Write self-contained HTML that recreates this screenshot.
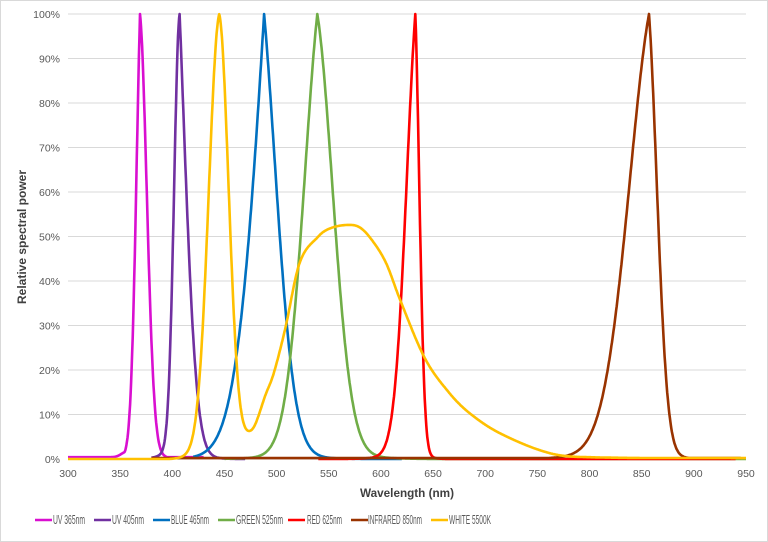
<!DOCTYPE html>
<html><head><meta charset="utf-8"><style>
html,body{margin:0;padding:0;background:#fff;}
svg{display:block;font-family:"Liberation Sans",sans-serif;}
</style></head><body>
<svg id="s" width="768" height="542" viewBox="0 0 768 542" xmlns="http://www.w3.org/2000/svg">
<rect x="0.5" y="0.5" width="767" height="541" fill="#fff" stroke="#d9d9d9"/>
<g id="grid" stroke="#d9d9d9" stroke-width="1"></g>
<g id="ylab" fill="#595959" font-size="10.5" text-anchor="end"></g>
<g id="xlab" fill="#595959" font-size="10.5" text-anchor="middle"></g>
<text x="407" y="497" font-size="12" font-weight="bold" fill="#404040" text-anchor="middle" textLength="94" lengthAdjust="spacingAndGlyphs">Wavelength (nm)</text>
<text transform="translate(26,237) rotate(-90)" font-size="12" font-weight="bold" fill="#404040" text-anchor="middle" textLength="134" lengthAdjust="spacingAndGlyphs">Relative spectral power</text>
<g id="curves" fill="none" stroke-width="2.6" stroke-linejoin="round"></g>
<g id="leg" fill="#595959"></g>
</svg>
<script>
var NS="http://www.w3.org/2000/svg";
function el(p,t,a,txt){var e=document.createElementNS(NS,t);for(var k in a)e.setAttribute(k,a[k]);if(txt)e.textContent=txt;document.getElementById(p).appendChild(e);return e;}
var x0=68,x1=746,y0=459,y100=14;
function X(nm){return x0+(nm-300)*(x1-x0)/650;}
function Y(v){return y0-(y0-y100)*v;}
for(var i=0;i<=10;i++){var y=Y(i/10);el('grid','line',{x1:x0,x2:x1,y1:y,y2:y,stroke:i==0?'#bfbfbf':'#d9d9d9'});el('ylab','text',{x:60,y:y+4},(i*10)+'%');}
for(var n=300;n<=950;n+=50)el('xlab','text',{x:X(n),y:477},''+n);
var L6=Math.log(1/0.6),L3=Math.log(1/0.3);
function coef(h1,h2){var b=(L3-L6*h2/h1)/(h2*h2-h1*h2);if(b<0)b=0;var a=(L6-b*h1*h1)/h1;if(a<0)a=0;return [a,b];}
function peak(c,h1l,h2l,h1r,h2r,w){w=w||0.1;var cl=coef(h1l,h2l),cr=coef(h1r,h2r);return function(n){var d=Math.abs(n-c);var k=n<c?cl:cr;var h2=n<c?h2l:h2r;var core=Math.exp(-(k[0]*d+k[1]*d*d));var tail=Math.exp(-d/(h2*0.75));return (core+w*tail)/(1+w);};}
function interp(tab,nm){
 if(nm<=tab[0][0])return tab[0][1];
 for(var i=1;i<tab.length;i++){if(nm<=tab[i][0]){
  var p0=tab[Math.max(i-2,0)],p1=tab[i-1],p2=tab[i],p3=tab[Math.min(i+1,tab.length-1)];
  var t=(nm-p1[0])/(p2[0]-p1[0]);
  var h=p2[0]-p1[0];
  var m1=(p2[1]-p0[1])/(p2[0]-p0[0]||1)*h, m2=(p3[1]-p1[1])/(p3[0]-p1[0]||1)*h;
  var t2=t*t,t3=t2*t;
  return (2*t3-3*t2+1)*p1[1]+(t3-2*t2+t)*m1+(-2*t3+3*t2)*p2[1]+(t3-t2)*m2;}}
 return tab[tab.length-1][1];}
var broad=[[300,0],[450,0],[462,0.015],[471,0.04],[479,0.07],[489,0.14],[497,0.19],[508,0.29],[522,0.44],[540,0.50],[551,0.518],[568,0.526],[580,0.52],[592,0.49],[605,0.44],[618,0.36],[642,0.227],[665,0.15],[685,0.103],[714,0.058],[762,0.013],[800,0.004],[950,0.002]];
var pM=peak(369,3.8,6.7,6.7,10.5), pP=peak(407,7.7,10.5,6.7,12.5), pY=peak(445,11.5,17,10,15),
    pB=peak(488,11.5,23,12.5,22), pG=peak(539,13.4,23,15.3,25), pR=peak(633,9,15.3,4,6.7), pI=peak(857,20,33.5,8,13.4);
var series=[
 ['#d90fd0','UV 365nm',function(n){return Math.max(pM(n),0.004+0.012*Math.exp(-Math.pow((n-356)/7,2)));},300,430],
 ['#7030a0','UV 405nm',pP,380,470],
 ['#0070c0','BLUE 465nm',pB,420,620],
 ['#70ad47','GREEN 525nm',pG,450,950],
 ['#ff0000','RED 625nm',pR,540,940],
 ['#993300','INFRARED 850nm',function(n){return Math.max(pI(n),0.002);},380,945],
 ['#ffc000','WHITE 5500K',function(n){return Math.max(0,pY(n)+interp(broad,n));},300,950]
];
series.forEach(function(s){var d='';for(var n=s[3];n<=s[4];n+=0.5){d+=(d?'L':'M')+X(n).toFixed(1)+','+Y(Math.min(1,s[2](n))).toFixed(1);}el('curves','path',{d:d,stroke:s[0]});});
var lx=[35,94,153,218,288,351,431];
var tx=[[53,32],[112,32],[171,38],[236,47],[307,35],[368,54],[449,42]];
series.forEach(function(s,i){el('leg','line',{x1:lx[i],x2:lx[i]+17,y1:520,y2:520,stroke:s[0],'stroke-width':2.6});el('leg','text',{x:tx[i][0],y:524,'font-size':12.5,textLength:tx[i][1],lengthAdjust:'spacingAndGlyphs'},s[1]);});
</script>
</body></html>
